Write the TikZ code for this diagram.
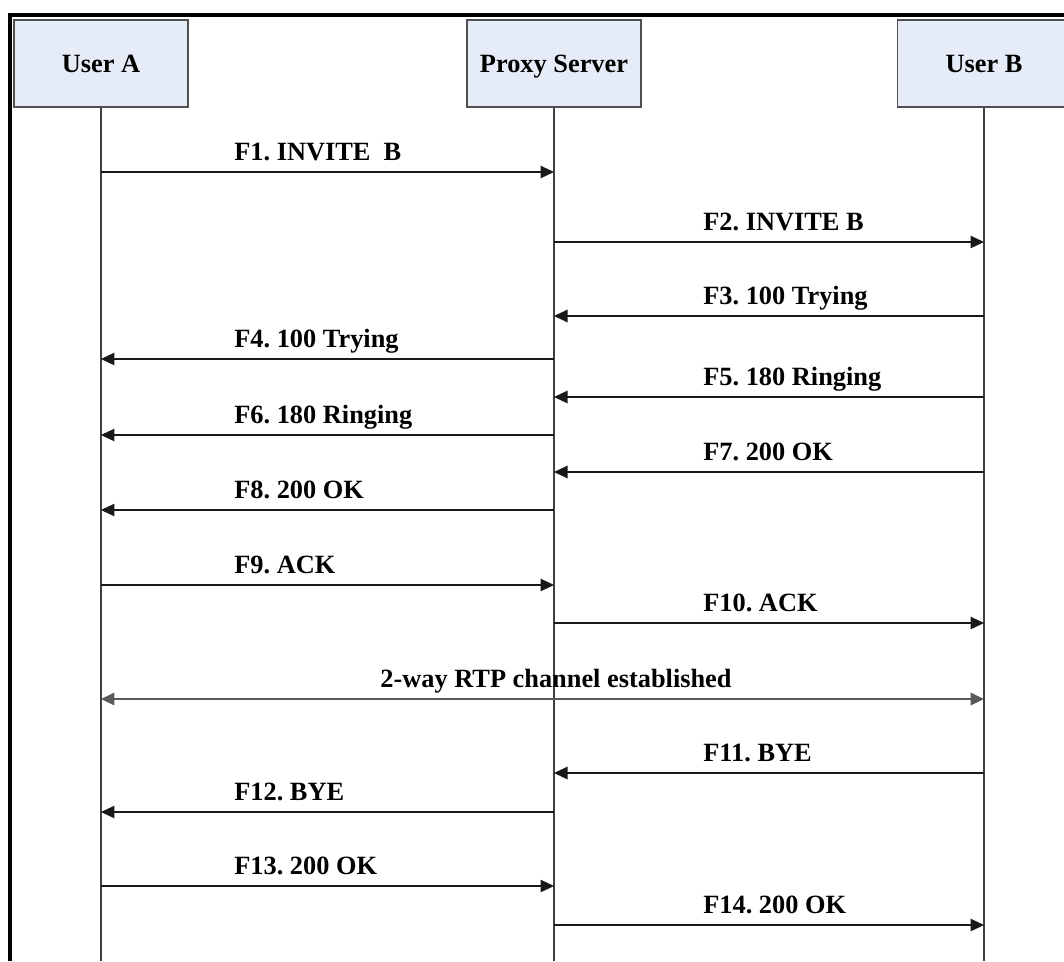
\documentclass[tikz,border=0pt]{standalone}
\usepackage{fontspec}
\setmainfont{Liberation Serif}
\usepackage{xcolor}
\usetikzlibrary{arrows.meta,positioning}

\definecolor{actorfill}{HTML}{E6ECF7}
\definecolor{actordraw}{HTML}{505050}

\begin{document}
\frenchspacing
\begin{tikzpicture}[
  x=0.02cm, y=-0.02cm,
  >={Triangle[length=0.27cm, width=0.25cm]},
  font=\fontsize{15}{18}\selectfont\bfseries,
  frame/.style={line width=2pt, black},
  actor/.style={draw=actordraw, fill=actorfill, line width=0.6pt, minimum width=3.48cm, minimum height=1.74cm, inner sep=0pt, text height=11pt, text depth=1.3pt},
  lifeline/.style={black!75, line width=0.6pt},
  msg/.style={->, black!90, line width=0.6pt},
  rtp/.style={<->, black!65, line width=1.2pt},
  msglabel/.style={anchor=base west, inner sep=0pt}
]
\useasboundingbox (0,0) rectangle (1064,961);

% Rahmen: nur links und oben sichtbar
\draw[frame] (10,961) -- (10,15) -- (1064,15);

% Teilnehmer
\node[actor] (userA) at (101,63.5) {User A};
\node[actor] (proxy) at (554,63.5) {Proxy Server};
\node[actor] (userB) at (984,63.5) {User B};

% Lebenslinien
\foreach \n in {userA,proxy,userB} {
  \coordinate (\n-end) at (\n |- 0,961);
  \draw[lifeline] (\n.south) -- (\n-end);
}

% Nachrichten: y / von / nach / x der Beschriftung / Text
\foreach \y/\src/\dst/\lx/\txt [count=\i] in {
  172/userA/proxy/234/F1. INVITE\ \ B,
  242/proxy/userB/703/F2. INVITE B,
  316/userB/proxy/703/F3. 100 Trying,
  359/proxy/userA/234/F4. 100 Trying,
  397/userB/proxy/703/F5. 180 Ringing,
  435/proxy/userA/234/F6. 180 Ringing,
  472/userB/proxy/703/F7. 200 OK,
  510/proxy/userA/234/F8. 200 OK,
  585/userA/proxy/234/F9. ACK,
  623/proxy/userB/703/F10. ACK,
  773/userB/proxy/703/F11. BYE,
  812/proxy/userA/234/F12. BYE,
  886/userA/proxy/234/F13. 200 OK,
  925/proxy/userB/703/F14. 200 OK} {
  \coordinate (m\i-s) at (\src |- 0,\y);
  \coordinate (m\i-t) at (\dst |- 0,\y);
  \draw[msg] (m\i-s) -- (m\i-t);
  \node[msglabel] (m\i-lbl) at (\lx,\y-12) {\txt};
}

% RTP-Kanal in beide Richtungen
\coordinate (rtpA) at (userA |- 0,699);
\coordinate (rtpB) at (userB |- 0,699);
\draw[rtp] (rtpA) -- (rtpB);
\node[anchor=base, inner sep=0pt] (rtplbl) at (556,687) {2-way RTP channel established};

\end{tikzpicture}
\end{document}
